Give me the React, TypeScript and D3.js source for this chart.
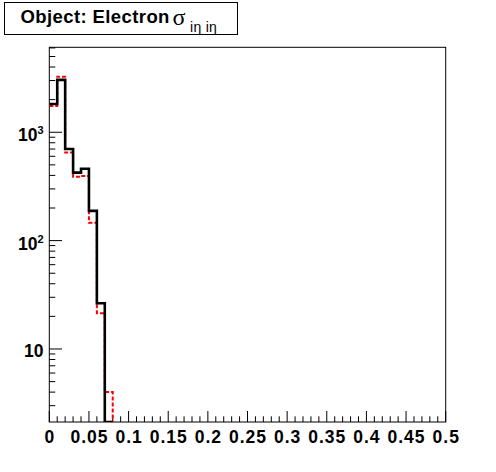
import React from "react";
import * as d3 from "d3";

const binEdges = [0, 0.01, 0.02, 0.03, 0.04, 0.05, 0.06, 0.07, 0.08];
const blackValues = [1824, 3040, 701, 424, 461, 188, 26.4, 0];
const redValues = [1750, 3260, 649, 389, 395, 146, 21.4, 4];
const xTickLabels = ["0", "0.05", "0.1", "0.15", "0.2", "0.25", "0.3", "0.35", "0.4", "0.45", "0.5"];
const yMajorTicks = [10, 100, 1000];
const yDomain = [2.12, 6080];
const xDomain = [0, 0.5];

const W = 496, H = 472;
const L = 49.3, R = 445.7, T = 47.3, B = 422;
const FONT = "'Liberation Sans', Arial, Helvetica, sans-serif";

export default function App() {
  const x = d3.scaleLinear().domain(xDomain).range([L, R]);
  const y = d3.scaleLog().domain(yDomain).range([B, T]);
  const yv = (v: number) => (v > 0 ? Math.max(T, Math.min(B, y(v))) : B);

  const histPath = (vals: number[]) => {
    const p = d3.path();
    let started = false;
    let lastY = B;
    vals.forEach((v, i) => {
      const x0 = x(binEdges[i]), x1 = x(binEdges[i + 1]);
      const yy = yv(v);
      if (!started) {
        p.moveTo(x0, yy);
        started = true;
      } else {
        p.lineTo(x0, yy);
      }
      p.lineTo(x1, yy);
      lastY = yy;
    });
    if (lastY < B) p.lineTo(x(binEdges[vals.length]), B);
    return p.toString();
  };

  const xMinor = d3.range(0, 51).map((i) => i / 100);
  const yMinor: number[] = [];
  for (let e = 0; e <= 3; e++) {
    for (let m = 2; m <= 9; m++) {
      const v = m * Math.pow(10, e);
      if (v >= yDomain[0] && v <= yDomain[1]) yMinor.push(v);
    }
  }

  return (
    <svg width={W} height={H} style={{ position: "fixed", left: 0, top: 0, background: "#fff" }}
      fontFamily={FONT}>
      <rect x={0} y={0} width={W} height={H} fill="#fff" />
      <defs>
        <clipPath id="plotclip">
          <rect x={L} y={T} width={R - L} height={B - T} />
        </clipPath>
      </defs>
      {/* frame */}
      <rect x={L} y={T} width={R - L} height={B - T} fill="none" stroke="#000" strokeWidth={1} />
      {/* x ticks */}
      {xMinor.map((v, i) => (
        <line key={"xt" + i} x1={x(v)} x2={x(v)} y1={B} y2={B - (i % 5 === 0 ? 11 : 5.7)}
          stroke="#000" strokeWidth={1} />
      ))}
      {xTickLabels.map((t, i) => (
        <text key={"xl" + i} x={x(i * 0.05) + 0.5} y={442.5} textAnchor="middle" fontSize={17.5}
          letterSpacing={1} fontWeight="bold">{t}</text>
      ))}
      {/* y ticks */}
      {yMinor.map((v, i) => (
        <line key={"ym" + i} x1={L} x2={L + 6} y1={y(v)} y2={y(v)} stroke="#000" strokeWidth={1} />
      ))}
      {yMajorTicks.map((v, i) => (
        <line key={"yM" + i} x1={L} x2={L + 12.7} y1={y(v)} y2={y(v)} stroke="#000" strokeWidth={1} />
      ))}
      {yMajorTicks.map((v, i) => {
        const exp = Math.round(Math.log10(v));
        return exp === 1 ? (
          <text key={"yl" + i} x={43.5} y={y(v) + 8.5} textAnchor="end" fontSize={17.5}
            fontWeight="bold">10</text>
        ) : (
          <text key={"yl" + i} x={43.5} y={y(v) + 9.2} textAnchor="end" fontSize={17.5}
            fontWeight="bold">
            10<tspan fontSize={11} dy={-7}>{exp}</tspan>
          </text>
        );
      })}
      {/* histograms */}
      <g clipPath="url(#plotclip)">
        <path d={histPath(redValues)} fill="none" stroke="#ff0000" strokeWidth={2}
          strokeDasharray="4 2" />
        <path d={histPath(blackValues)} fill="none" stroke="#000" strokeWidth={2.6} />
      </g>
      {/* title box */}
      <rect x={4.5} y={2.5} width={233} height={32} fill="#fff" stroke="#000" strokeWidth={1} />
      <text x={20.5} y={22.7} fontSize={18.5} letterSpacing={0.4} fontWeight="bold">Object: Electron</text>
      <text x={172.5} y={25} fontSize={24} fontFamily="'Liberation Serif', serif">σ</text>
      <text x={190} y={31.5} fontSize={14} letterSpacing={0.3} fontFamily={FONT}>iη iη</text>
    </svg>
  );
}
